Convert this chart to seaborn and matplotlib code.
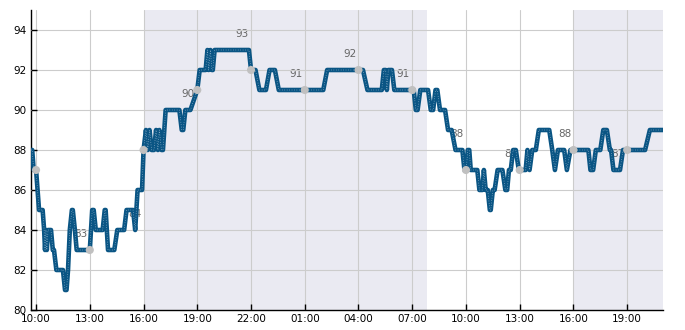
import numpy as np
import pandas as pd
import matplotlib
matplotlib.use("Agg")
import matplotlib.pyplot as plt
import matplotlib.dates as mdates
from matplotlib.ticker import MultipleLocator
import seaborn as sns

# ---- data ----
times = [
    "09:43", "09:47", "09:52", "10:00", "10:05", "10:10", "10:22", "10:27", "10:30", "10:33",
    "10:36", "10:40", "10:50", "10:56", "11:00", "11:08", "11:30", "11:37", "11:42", "11:47",
    "11:53", "12:00", "12:03", "12:10", "12:16", "13:00", "13:08", "13:13", "13:20", "13:43",
    "13:50", "13:53", "14:01", "14:22", "14:32", "14:55", "15:03", "15:25", "15:32", "15:40",
    "15:55", "16:00", "16:08", "16:14", "16:20", "16:27", "16:35", "16:42", "16:48", "16:53",
    "17:00", "17:05", "17:14", "18:00", "18:08", "18:13", "18:20", "18:37", "19:00", "19:08",
    "19:28", "19:34", "19:38", "19:44", "19:49", "19:52", "19:58", "21:53", "22:00", "22:15",
    "22:28", "22:50", "23:02", "23:20", "23:33",
    "02:02", "02:15", "04:15", "04:30", "05:18", "05:25", "05:31", "05:35", "05:40", "05:52",
    "06:00", "07:05", "07:12", "07:18", "07:27", "07:53", "08:02", "08:10", "08:18", "08:24",
    "08:33", "08:50", "09:00", "09:12", "09:25", "09:48", "09:55", "10:01", "10:06", "10:11",
    "10:16", "10:38", "10:45", "10:55", "11:00", "11:06", "11:13", "11:20", "11:23", "11:30",
    "11:36", "11:46", "12:02", "12:12", "12:18", "12:24", "12:30", "12:38", "12:47", "12:57",
    "13:10", "13:20", "13:26", "13:33", "13:42", "13:54", "14:04", "14:39", "14:49", "14:58",
    "15:08", "15:29", "15:38", "15:50", "16:50", "16:57", "17:06", "17:15", "17:30", "17:40",
    "17:52", "18:02", "18:06", "18:14", "18:36", "18:46", "20:00", "20:16", "21:00",
]
values = [
    88, 88, 87, 87, 86, 85, 85, 84, 83, 84,
    83, 84, 84, 83, 83, 82, 82, 81, 81, 82,
    84, 85, 85, 84, 83, 83, 85, 85, 84, 84,
    85, 85, 83, 83, 84, 84, 85, 85, 84, 86,
    86, 88, 89, 88, 89, 88, 88, 89, 88, 89,
    88, 88, 90, 90, 89, 89, 90, 90, 91, 92,
    92, 93, 92, 93, 92, 92, 93, 93, 92, 92,
    91, 91, 92, 92, 91,
    91, 92, 92, 91, 91, 92, 92, 91, 92, 92,
    91, 91, 90, 90, 91, 91, 90, 90, 91, 91,
    90, 90, 89, 89, 88, 88, 87, 87, 88, 88,
    87, 87, 86, 86, 87, 86, 86, 85, 85, 86,
    86, 87, 87, 86, 86, 87, 87, 88, 88, 87,
    87, 87, 88, 87, 88, 88, 89, 89, 88, 87,
    88, 88, 87, 88, 88, 87, 87, 88, 88, 89,
    89, 88, 88, 87, 87, 88, 88, 89, 89,
]

dot_times = ["10:00", "13:00", "16:00", "19:00", "22:00", "01:00",
             "04:00", "07:00", "10:00", "13:00", "16:00", "19:00"]
dot_values = [87, 83, 88, 91, 92, 91, 92, 91, 87, 87, 88, 88]

label_times = ["12:30", "15:30", "18:30", "21:30", "00:30", "03:30",
               "06:30", "09:30", "12:30", "15:30", "18:30"]
label_values = [83, 84, 90, 93, 91, 92, 91, 88, 87, 88, 87]

shade_spans = [("16:00", "07:50"), ("16:00", "21:00")]
shade_days = [(0, 1), (1, 1)]

x_start, x_end = "09:43", "21:00"
y_ticks = [80, 82, 84, 86, 88, 90, 92, 94]


def to_datetimes(lst, first_day="2024-01-01", start_day=0):
    out = []
    day = start_day
    prev = None
    for s in lst:
        t = pd.Timestamp(f"{first_day} {s}") + pd.Timedelta(days=day)
        if prev is not None and t < prev:
            day += 1
            t += pd.Timedelta(days=1)
        out.append(t)
        prev = t
    return out


ts = to_datetimes(times)
dts = to_datetimes(dot_times)
lts = to_datetimes(label_times)

df = pd.DataFrame({"time": ts, "value": values})
dots = pd.DataFrame({"time": dts, "value": dot_values})

sns.set_style("white")
plt.rcParams["font.family"] = ["DejaVu Sans"]

fig = plt.figure(figsize=(6.85, 3.3), dpi=100)
ax = fig.add_axes([31 / 685, 20 / 330, 632 / 685, 300 / 330])

for (a, b), (da, db) in zip(shade_spans, shade_days):
    ta = pd.Timestamp(f"2024-01-01 {a}") + pd.Timedelta(days=da)
    tb = pd.Timestamp(f"2024-01-01 {b}") + pd.Timedelta(days=db)
    ax.axvspan(ta, tb, color="#eaeaf2", zorder=0, lw=0)

line_color = "#0a5584"
sns.lineplot(data=df, x="time", y="value", ax=ax, color=line_color,
             linewidth=3.3, zorder=3, estimator=None, sort=False)
ax.plot(df["time"], df["value"], color="#a9c4d9", linewidth=0.5,
        linestyle=(0, (1, 2.5)), zorder=4)

sns.scatterplot(data=dots, x="time", y="value", ax=ax, color="#c0c0c0",
                s=34, edgecolor="none", zorder=5, legend=False)

for t, v in zip(lts, label_values):
    ax.annotate(str(v), xy=(t, v), xytext=(0, 16), textcoords="offset pixels",
                ha="center", va="center", fontsize=7.5, color="#666666",
                zorder=2, annotation_clip=True)

ax.set_xlim(pd.Timestamp(f"2024-01-01 {x_start}"),
            pd.Timestamp(f"2024-01-02 {x_end}"))
ax.set_ylim(80, 95)
ax.set_yticks(y_ticks)
ax.yaxis.set_minor_locator(MultipleLocator(1))
ax.xaxis.set_major_locator(mdates.HourLocator(byhour=[1, 4, 7, 10, 13, 16, 19, 22]))
ax.xaxis.set_major_formatter(mdates.DateFormatter("%H:%M"))

ax.grid(True, which="major", color="#cccccc", linewidth=0.8, zorder=1)
ax.set_axisbelow(False)
for gl in ax.get_xgridlines() + ax.get_ygridlines():
    gl.set_zorder(1)

ax.tick_params(axis="both", which="major", direction="in", length=4, width=1,
               labelsize=7.5, colors="black", pad=3)
ax.tick_params(axis="y", which="minor", direction="in", length=3, width=1)
ax.tick_params(axis="x", which="minor", length=0)
ax.tick_params(left=True, bottom=True)

for side in ["top", "right"]:
    ax.spines[side].set_visible(False)
for side in ["left", "bottom"]:
    ax.spines[side].set_color("black")
    ax.spines[side].set_linewidth(1)

ax.set_xlabel("")
ax.set_ylabel("")

fig.savefig("out.png", dpi=100)
